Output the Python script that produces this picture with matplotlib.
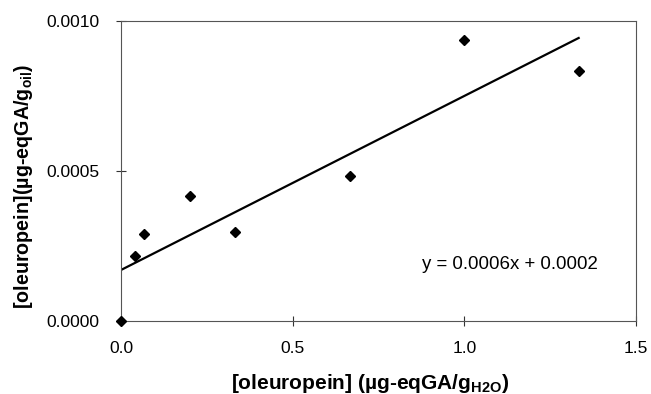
import numpy as np
import matplotlib
matplotlib.use("Agg")
import matplotlib.pyplot as plt

plt.rcParams['font.family'] = ['Liberation Sans', 'DejaVu Sans']
plt.rcParams['mathtext.fontset'] = 'custom'
plt.rcParams['mathtext.rm'] = 'Liberation Sans'
plt.rcParams['mathtext.bf'] = 'Liberation Sans:bold'

# data
x_water = [0.0, 0.04, 0.0667, 0.2, 0.333, 0.667, 1.0, 1.333]
y_oil = [0.0, 0.000217, 0.000289, 0.000417, 0.000296, 0.000483, 0.000938, 0.000832]
x_ticks = [0.0, 0.5, 1.0, 1.5]
y_ticks = [0.0, 0.0005, 0.0010]

# linear trend line
slope, intercept = np.polyfit(x_water, y_oil, 1)
xl = np.array([0.0, max(x_water)])

fig = plt.figure(figsize=(6.51, 3.94), dpi=100)
ax = fig.add_axes([121/651, 1 - 321/394, (636-121)/651, (321-21)/394])

ax.plot(xl, slope * xl + intercept, color='black', lw=1.6, zorder=2)
ax.plot(x_water, y_oil, 'D', color='black', markersize=5.5, zorder=3, clip_on=False)

ax.set_xlim(0, 1.5)
ax.set_ylim(0, 0.0010)
ax.set_xticks(x_ticks)
ax.set_xticklabels(['%.1f' % v for v in x_ticks])
ax.set_yticks(y_ticks)
ax.set_yticklabels(['%.4f' % v for v in y_ticks])
ax.tick_params(direction='inout', length=7, width=0.8, labelsize=12.5, color='#333333')
ax.tick_params(axis='x', pad=11)
ax.tick_params(axis='y', pad=12)
for s in ax.spines.values():
    s.set_color('#555555')
    s.set_linewidth(0.8)

ax.text(0.876, 0.000187, 'y = 0.0006x + 0.0002', fontsize=13.4, ha='left', va='center')

ax.set_xlabel(r'[oleuropein] (µg-eqGA/g$_{\mathbf{H2O}}$)', fontsize=15, fontweight='bold')
ax.set_ylabel(r'[oleuropein](µg-eqGA/g$_{\mathbf{oil}}$)', fontsize=14.2, fontweight='bold')
# label positions in axes fraction (pixel guides from the reference)
ax.xaxis.set_label_coords((370 - 121) / 515, -(372 - 321) / 300)
ax.yaxis.set_label_coords(-(121 - 35) / 515, (321 - 186) / 300)

fig.savefig('out.png', dpi=100)
